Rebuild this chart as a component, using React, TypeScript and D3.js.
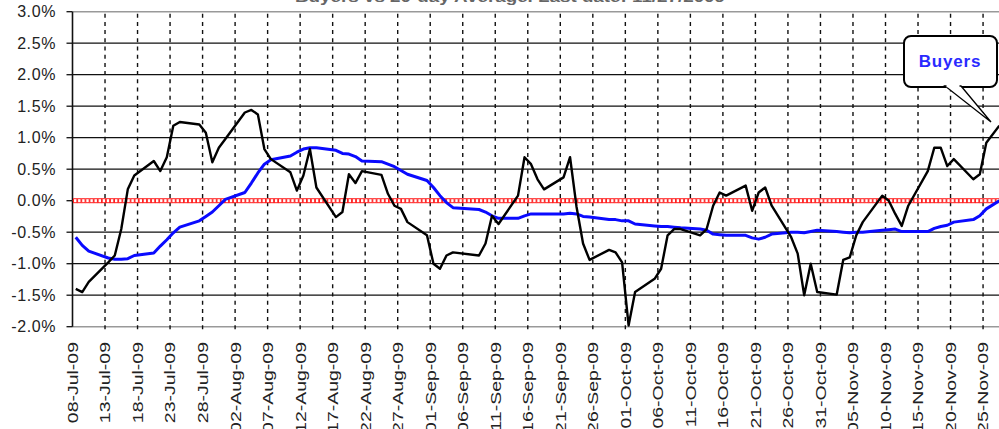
import { scaleLinear, scaleTime, line, timeParse, timeFormat, timeHour, range } from "d3";

// trading days shown on the chart
const tradeDates = [
  "2009-07-08", "2009-07-09", "2009-07-10", "2009-07-13", "2009-07-14", "2009-07-15", "2009-07-16", "2009-07-17",
  "2009-07-20", "2009-07-21", "2009-07-22", "2009-07-23", "2009-07-24", "2009-07-27", "2009-07-28", "2009-07-29",
  "2009-07-30", "2009-07-31",
  "2009-08-03", "2009-08-04", "2009-08-05", "2009-08-06", "2009-08-07", "2009-08-10", "2009-08-11", "2009-08-12",
  "2009-08-13", "2009-08-14", "2009-08-17", "2009-08-18", "2009-08-19", "2009-08-20", "2009-08-21", "2009-08-24",
  "2009-08-25", "2009-08-26", "2009-08-27", "2009-08-28", "2009-08-31",
  "2009-09-01", "2009-09-02", "2009-09-03", "2009-09-04", "2009-09-08", "2009-09-09", "2009-09-10", "2009-09-11",
  "2009-09-14", "2009-09-15", "2009-09-16", "2009-09-17", "2009-09-18", "2009-09-21", "2009-09-22", "2009-09-23",
  "2009-09-24", "2009-09-25", "2009-09-28", "2009-09-29", "2009-09-30",
  "2009-10-01", "2009-10-02", "2009-10-05", "2009-10-06", "2009-10-07", "2009-10-08", "2009-10-09", "2009-10-12",
  "2009-10-13", "2009-10-14", "2009-10-15", "2009-10-16", "2009-10-19", "2009-10-20", "2009-10-21", "2009-10-22",
  "2009-10-23", "2009-10-26", "2009-10-27", "2009-10-28", "2009-10-29", "2009-10-30",
  "2009-11-02", "2009-11-03", "2009-11-04", "2009-11-05", "2009-11-06", "2009-11-09", "2009-11-10", "2009-11-11",
  "2009-11-12", "2009-11-13", "2009-11-16", "2009-11-17", "2009-11-18", "2009-11-19", "2009-11-20", "2009-11-23",
  "2009-11-24", "2009-11-25", "2009-11-27",
];

// black line (Buyers), percent
const buyers = [
  -1.4, -1.45, -1.29, -0.98, -0.87, -0.45, 0.18, 0.4, 0.63, 0.47, 0.69, 1.19, 1.25, 1.21, 1.08, 0.61, 0.84, 0.98,
  1.4, 1.44, 1.37, 0.82, 0.66, 0.45, 0.16, 0.4, 0.82, 0.21, -0.26, -0.18, 0.42, 0.28, 0.47, 0.41, 0.11, -0.08,
  -0.13, -0.34, -0.55,
  -1.0, -1.08, -0.87, -0.82, -0.87, -0.68, -0.24, -0.37, 0.08, 0.69, 0.58, 0.34, 0.18, 0.37, 0.69, -0.1, -0.68,
  -0.94, -0.78, -0.82, -0.98,
  -1.98, -1.45, -1.24, -1.08, -0.55, -0.45, -0.45, -0.55, -0.45, -0.08, 0.13, 0.08, 0.24, -0.16, 0.13, 0.21,
  -0.08, -0.58, -0.84, -1.5, -1.0, -1.45,
  -1.49, -0.94, -0.9, -0.55, -0.34, 0.08, 0.0, -0.21, -0.4, -0.08, 0.47, 0.84, 0.84, 0.55, 0.66, 0.34, 0.42,
  0.92, 1.19,
];

// blue line (20-day average), percent
const avg20 = [
  -0.58, -0.71, -0.8, -0.91, -0.93, -0.93, -0.92, -0.87, -0.83, -0.72, -0.62, -0.51, -0.42, -0.32, -0.25, -0.18,
  -0.08, 0.02,
  0.13, 0.28, 0.44, 0.58, 0.65, 0.71, 0.77, 0.82, 0.84, 0.84, 0.8, 0.75, 0.74, 0.7, 0.63, 0.62, 0.58, 0.54, 0.48,
  0.42, 0.32,
  0.21, 0.08, -0.03, -0.11, -0.14, -0.18, -0.24, -0.28, -0.28, -0.24, -0.21, -0.21, -0.21, -0.21, -0.2, -0.21,
  -0.25, -0.26, -0.3, -0.3, -0.32,
  -0.32, -0.37, -0.4, -0.41, -0.41, -0.42, -0.43, -0.45, -0.47, -0.53, -0.54, -0.55, -0.55, -0.59, -0.61, -0.58,
  -0.53, -0.5, -0.5, -0.51, -0.49, -0.47,
  -0.49, -0.5, -0.51, -0.5, -0.5, -0.47, -0.46, -0.45, -0.49, -0.49, -0.49, -0.44, -0.41, -0.39, -0.34, -0.3,
  -0.24, -0.13, 0.0,
];

const yTicks = [3, 2.5, 2, 1.5, 1, 0.5, 0, -0.5, -1, -1.5, -2];

const xTickDates = [
  "2009-07-08", "2009-07-13", "2009-07-18", "2009-07-23", "2009-07-28", "2009-08-02", "2009-08-07", "2009-08-12",
  "2009-08-17", "2009-08-22", "2009-08-27", "2009-09-01", "2009-09-06", "2009-09-11", "2009-09-16", "2009-09-21",
  "2009-09-26", "2009-10-01", "2009-10-06", "2009-10-11", "2009-10-16", "2009-10-21", "2009-10-26", "2009-10-31",
  "2009-11-05", "2009-11-10", "2009-11-15", "2009-11-20", "2009-11-25",
];

const title = "Buyers vs 20-day Average. Last date: 11/27/2009";
const calloutLabel = "Buyers";

const parse = timeParse("%Y-%m-%d");
const fmt = timeFormat("%d-%b-%y");
const font = "'Liberation Sans', Arial, sans-serif";

export default function App() {
  const W = 999;
  const H = 429;
  const left = 72.5;
  const top = 11.7;
  const bottom = 326.7;
  const dayW = 6.504;

  const start = parse("2009-07-08")!;
  const end = parse("2009-11-28")!;
  const x = scaleTime().domain([start, end]).range([left, left + 143 * dayW]);
  const y = scaleLinear().domain([-2, 3]).range([bottom, top]);

  // each point sits in the middle of its day
  const pts = tradeDates.map((s, i) => ({
    x: x(timeHour.offset(parse(s)!, 12)),
    b: buyers[i],
    a: avg20[i],
  }));

  const buyersLine = line<(typeof pts)[number]>()
    .x((d) => d.x)
    .y((d) => y(d.b))(pts)!;
  const avgLine = line<(typeof pts)[number]>()
    .x((d) => d.x)
    .y((d) => y(d.a))(pts)!;

  const y0 = y(0);
  const ticks = xTickDates.map((s) => parse(s)!);

  return (
    <>
      <style>{`body{margin:0;background:#fff}`}</style>
      <svg width={W} height={H} style={{ display: "block", fontFamily: font }}>
        <rect x={0} y={0} width={W} height={H} fill="#fff" />

        {/* title, mostly cut off by the top edge */}
        <text
          x={510}
          y={1.5}
          textAnchor="middle"
          fontSize={14}
          fontWeight="bold"
          fill="#666"
          textLength={430}
          lengthAdjust="spacingAndGlyphs"
        >
          {title}
        </text>

        {/* horizontal grid */}
        {yTicks.map((v, i) => (
          <g key={i}>
            <line
              x1={left}
              x2={W}
              y1={y(v)}
              y2={y(v)}
              stroke={v === 3 || v === -2 ? "#999" : "#111"}
              strokeWidth={v === 3 || v === -2 ? 1.5 : 1.3}
            />
            <line x1={left - 6} x2={left} y1={y(v)} y2={y(v)} stroke="#111" strokeWidth={1.3} />
            <text
              x={56}
              y={y(v)}
              dy="0.36em"
              textAnchor="end"
              fontSize={16}
              letterSpacing={0.6}
              fill="#222"
            >
              {`${v.toFixed(1)}%`}
            </text>
          </g>
        ))}

        {/* vertical dashed grid + labels */}
        {ticks.map((t, i) => (
          <g key={i}>
            {i > 0 && (
              <line
                x1={x(t)}
                x2={x(t)}
                y1={top + 2}
                y2={bottom + 5}
                stroke="#111"
                strokeWidth={1.4}
                strokeDasharray="4,4.2"
              />
            )}
            <text
              transform={`translate(${x(t)},${342}) rotate(-90) scale(1.3,1)`}
              textAnchor="end"
              dy="0.36em"
              fontSize={15}
              fill="#222"
            >
              {fmt(t)}
            </text>
          </g>
        ))}

        {/* left axis */}
        <line x1={left} x2={left} y1={top} y2={bottom} stroke="#111" strokeWidth={1.6} />

        {/* zero line drawn as a chain of small squares */}
        <line x1={left} x2={W} y1={y0} y2={y0} stroke="#ff3030" strokeWidth={1} />
        {range(left + 1, W, 4.1).map((px, i) => (
          <rect
            key={i}
            x={px}
            y={y0 - 2}
            width={3.4}
            height={4}
            fill="#fff"
            stroke="#ff2020"
            strokeWidth={1}
          />
        ))}

        <path d={avgLine} fill="none" stroke="#0a0aff" strokeWidth={3} strokeLinejoin="round" />
        <path d={buyersLine} fill="none" stroke="#000" strokeWidth={2.4} strokeLinejoin="round" />

        {/* callout */}
        <g>
          <rect x={904} y={36} width={93} height={51} rx={7} fill="#fff" stroke="#000" strokeWidth={2} />
          <polygon points="945,86 961,86 991,122" fill="#fff" stroke="#000" strokeWidth={1.3} />
          <line x1={946.5} x2={959.5} y1={86} y2={86} stroke="#fff" strokeWidth={2.5} />
          <text
            x={950}
            y={67}
            textAnchor="middle"
            fontSize={17}
            fontWeight="bold"
            fill="#2a2aff"
            letterSpacing={0.8}
          >
            {calloutLabel}
          </text>
        </g>
      </svg>
    </>
  );
}
